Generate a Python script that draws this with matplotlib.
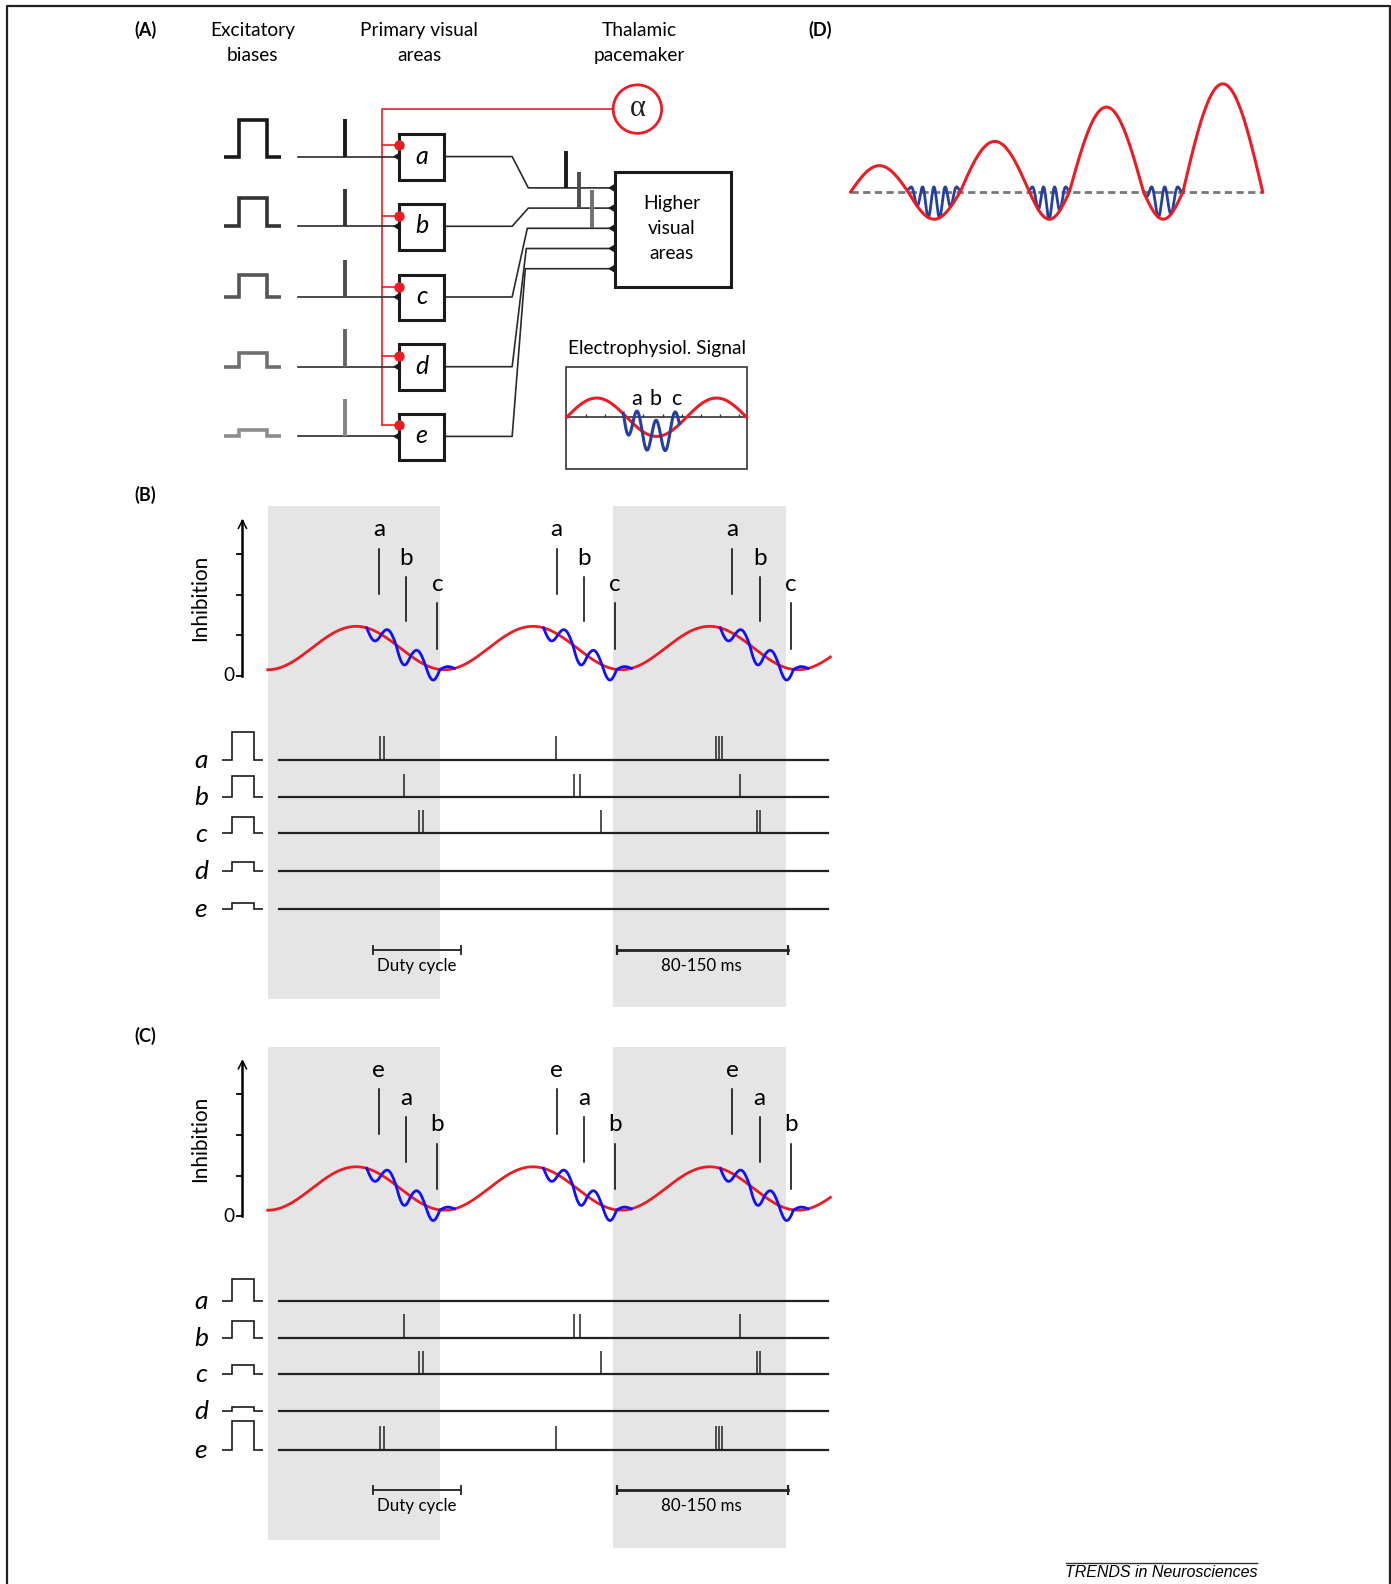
import numpy as np
import matplotlib.pyplot as plt
from matplotlib.patches import Rectangle, Circle, Polygon

plt.rcParams['font.family'] = ['Lato', 'DejaVu Sans']

RED = '#ec1c24'
BLUE_B = '#1010ff'
BLUE_A = '#2540a0'
SHADE = '#e5e5e5'
INK = '#1a1a1a'
FS = 13.8

# ---------------- panel A data ----------------
rows_A = ['a', 'b', 'c', 'd', 'e']
row_y_A = [155, 224, 294, 363, 432]
bias_h_A = [36, 28, 22, 14, 6]
bias_col_A = ['#1a1a1a', '#333333', '#555555', '#707070', '#8c8c8c']
spike_col_A = ['#1a1a1a', '#333333', '#4d4d4d', '#666666', '#858585']
tap_y_A = [144, 214, 284, 352, 421]
higher_in_y = [186, 206, 226, 246, 266]
merge_x = [523, 523, 522, 521, 520]
out_spike_x = [560, 573, 586]
out_spike_top = [149, 170, 188]
out_spike_bot = [186, 206, 226]
out_spike_col = ['#1a1a1a', '#4d4d4d', '#707070']

# inset "Electrophysiol. Signal"
inset_x = [561, 739]
inset_cycles = 1.5
inset_amp = 19
inset_axis_y = 413
inset_ticks = [580, 599, 618, 637, 656, 675, 694, 713, 732]
inset_burst = [617, 672.5]
inset_burst_peak = 631
inset_burst_period = 18.5
inset_burst_amp = 16
inset_labels = ['a', 'b', 'c']
inset_label_x = [630, 649, 669]

# ---------------- panel D data ----------------
zero_x_D = [842, 899, 950.5, 1019, 1058.6, 1132, 1171, 1250]
lobe_amp_D = [26, -27, 50, -27, 84, -27, 107]
base_y_D = 190
burst_peaks_D = [[902, 913.5, 925, 936.5, 947],
                 [1022, 1033, 1044, 1055],
                 [1140, 1153, 1166]]
burst_lobe_D = [1, 3, 5]
burst_top_D = 5

# ---------------- panels B / C data ----------------
red_x = [265, 822]
red_period = 175
red_mid = 641.5
red_amp = 21.5
burst_start = [363, 538, 713]
blue_period = 29
blue_env = [10, 9, 14, 10, 12, 3]
group_shift = [0, 176, 350]
label_x = [375, 402, 433]
label_top = [543, 571, 597]
label_bot = [588, 615, 642]
labels_B = ['a', 'b', 'c']
labels_C = ['e', 'a', 'b']
axis_ticks = [669, 629, 589, 548]
shade_x = [265, 607]
shade_w = 171
shade_top = 501
shade_bot = [989, 997]
offset_C = 535

raster_rows = ['a', 'b', 'c', 'd', 'e']
raster_y_B = [752, 789, 825, 862, 900]
raster_y_C = [1288, 1324, 1360, 1397, 1435]
bias_h_B = [27, 21, 16, 9, 6]
bias_h_C = [22, 16, 9, 4, 28]
spikes_a_B = [376, 380, 550.5, 708.5, 711.5, 715]
spikes_b_B = [399.5, 568.5, 574, 732.5]
spikes_c_B = [415, 419, 595, 749, 752.5]
spikes_d_B = []
spikes_e_B = []
spikes_a_C = []
spikes_b_C = [399.5, 568.5, 574, 732.5]
spikes_c_C = [415, 419, 595, 749, 752.5]
spikes_d_C = []
spikes_e_C = [376, 380, 550.5, 708.5, 711.5, 715]
spike_h = 23
duty_bar = [369, 456]
period_bar = [611, 780]
bar_y_B = 940


fig = plt.figure(figsize=(13.91, 15.84), dpi=100)
ax = fig.add_axes([0, 0, 1, 1])
ax.set_xlim(0, 1377)
ax.set_ylim(1568, 0)
ax.axis('off')

# frame
ax.plot([7, 7, 1376, 1376], [1568, 6, 6, 1568], color='#222222', lw=1.6)


def pulse(x0, x1, x2, x3, base, h, color, lw):
    ax.plot([x0, x1, x1, x2, x2, x3], [base, base, base - h, base - h, base, base],
            color=color, lw=lw, solid_joinstyle='miter', solid_capstyle='butt')


def tri(xtip, y, w, h, color):
    ax.add_patch(Polygon([[xtip, y], [xtip + w, y - h], [xtip + w, y + h]],
                         closed=True, fc=color, ec='none', zorder=5))


# ================= PANEL A =================
ax.text(144, 30, '(A)', fontsize=13, fontweight='bold', ha='center', va='center')
ax.text(250, 30, 'Excitatory', fontsize=FS, ha='center', va='center')
ax.text(250, 55, 'biases', fontsize=FS, ha='center', va='center')
ax.text(415, 30, 'Primary visual', fontsize=FS, ha='center', va='center')
ax.text(415, 55, 'areas', fontsize=FS, ha='center', va='center')
ax.text(633, 30, 'Thalamic', fontsize=FS, ha='center', va='center')
ax.text(633, 55, 'pacemaker', fontsize=FS, ha='center', va='center')

# thalamic pacemaker and red inhibitory lines
ax.add_patch(Circle((631, 108), 24, fc='white', ec=RED, lw=2, zorder=4))
ax.text(631, 107, 'α', fontsize=22, family='Liberation Serif', ha='center', va='center',
        color='#222222', zorder=5)
ax.plot([607, 378, 378], [108, 108, tap_y_A[-1]], color=RED, lw=1.2)

for i, r in enumerate(rows_A):
    y = row_y_A[i]
    pulse(222, 237, 264, 278, y, bias_h_A[i], bias_col_A[i], 2.6)
    ax.plot([295, 393], [y, y], color='#2a2a2a', lw=1.2)
    ax.plot([342, 342], [y - 37, y], color=spike_col_A[i], lw=2.8, solid_capstyle='butt')
    ax.plot([378, 395], [tap_y_A[i], tap_y_A[i]], color=RED, lw=1.2)
    ax.plot(395, tap_y_A[i], 'o', color=RED, ms=6.5, zorder=6)
    ax.add_patch(Rectangle((395, y - 22), 45, 45, fc='white', ec=INK, lw=2.2, zorder=3))
    tri(389, y, 8, 5, INK)
    ax.text(417.5, y + 7, r, fontsize=18, style='italic', ha='center', va='baseline', zorder=6)
    # output towards higher areas
    ax.plot([440, 507, merge_x[i], 603], [y, y, higher_in_y[i], higher_in_y[i]],
            color='#2a2a2a', lw=1.2)

ax.add_patch(Rectangle((609, 170), 115, 114, fc='white', ec=INK, lw=2.2, zorder=3))
for y in higher_in_y:
    tri(602, y, 8, 5, INK)
ax.text(665, 201, 'Higher', fontsize=FS, ha='center', va='center', zorder=6)
ax.text(665, 226, 'visual', fontsize=FS, ha='center', va='center', zorder=6)
ax.text(665, 251, 'areas', fontsize=FS, ha='center', va='center', zorder=6)
for i in range(3):
    ax.plot([out_spike_x[i], out_spike_x[i]], [out_spike_top[i], out_spike_bot[i]],
            color=out_spike_col[i], lw=2.8, solid_capstyle='butt', zorder=4)

# inset signal
ax.text(650, 345, 'Electrophysiol. Signal', fontsize=FS, ha='center', va='center')
ax.add_patch(Rectangle((560, 363), 179, 101, fc='white', ec='#333333', lw=1.2))
ax.plot([560, 739], [inset_axis_y, inset_axis_y], color='#333333', lw=1.2)
ax.vlines(inset_ticks, inset_axis_y - 3, inset_axis_y, color='#333333', lw=1)
ip = (inset_x[1] - inset_x[0]) / inset_cycles
xi = np.linspace(inset_x[0], inset_x[1], 300)


def inset_red(x):
    return inset_axis_y - inset_amp * np.sin(2 * np.pi * (x - inset_x[0]) / ip)


ax.plot(xi, inset_red(xi), color=RED, lw=2.2, zorder=4)
xb = np.linspace(inset_burst[0], inset_burst[1], 200)
ax.plot(xb, inset_red(xb) - inset_burst_amp * np.cos(2 * np.pi * (xb - inset_burst_peak) / inset_burst_period),
        color=BLUE_A, lw=2.2, zorder=5)
for lx, lb in zip(inset_label_x, inset_labels):
    ax.text(lx, 401, lb, fontsize=15.5, ha='center', va='baseline', zorder=6)

# ================= PANEL D =================
ax.text(812, 30, '(D)', fontsize=13, fontweight='bold', ha='center', va='center')
ax.plot([842, 1250], [base_y_D, base_y_D], color='#777777', lw=2, ls=(0, (2.6, 1.6)))


def red_D(x):
    y = np.full_like(x, float(base_y_D))
    for k in range(len(lobe_amp_D)):
        a, b = zero_x_D[k], zero_x_D[k + 1]
        m = (x >= a) & (x <= b)
        y[m] = base_y_D - lobe_amp_D[k] * np.sin(np.pi * (x[m] - a) / (b - a))
    return y


xd = np.linspace(zero_x_D[0], zero_x_D[-1], 1200)
for j, pk in enumerate(burst_peaks_D):
    lo = burst_lobe_D[j]
    a, b = zero_x_D[lo], zero_x_D[lo + 1]
    per = (pk[-1] - pk[0]) / (len(pk) - 1)
    xs = np.linspace(a, b, 300)
    ry = red_D(xs)
    top = base_y_D - burst_top_D
    w = (1 + np.cos(2 * np.pi * (xs - pk[0]) / per)) / 2
    ax.plot(xs, ry + (top - ry) * w, color=BLUE_A, lw=2, zorder=4)
ax.plot(xd, red_D(xd), color=RED, lw=2.2, zorder=5)

# ================= PANELS B and C =================


def red_BC(x, dy):
    return red_mid + dy + red_amp * np.cos(2 * np.pi * (x - red_x[0]) / red_period)


def wave_panel(dy, labels, title):
    ax.text(144, 490 + dy, title, fontsize=13, fontweight='bold', ha='center', va='center')
    for k in range(2):
        ax.add_patch(Rectangle((shade_x[k], shade_top + dy), shade_w, shade_bot[k] - shade_top,
                               fc=SHADE, ec='none', zorder=0))
    # axis
    ax.plot([240, 240], [axis_ticks[0] + dy, 516 + dy], color='black', lw=1.8)
    ax.plot([236, 240, 244], [523 + dy, 515 + dy, 523 + dy], color='black', lw=1.1)
    for t in axis_ticks:
        ax.plot([235, 240], [t + dy, t + dy], color='black', lw=1.3)
    ax.text(227, axis_ticks[0] + dy, '0', fontsize=FS, ha='center', va='center')
    ax.text(198, 592 + dy, 'Inhibition', fontsize=15, rotation=90, ha='center', va='center')
    xr = np.linspace(red_x[0], red_x[1], 800)
    ax.plot(xr, red_BC(xr, dy), color=RED, lw=2, zorder=3)
    half = blue_period / 2
    for s in burst_start:
        xb = np.linspace(s, s + half * len(blue_env), 300)
        idx = np.minimum(((xb - s) // half).astype(int), len(blue_env) - 1)
        env = np.array(blue_env)[idx]
        ax.plot(xb, red_BC(xb, dy) + env * np.sin(2 * np.pi * (xb - s) / blue_period),
                color=BLUE_B, lw=2, zorder=4)
    for g in group_shift:
        for i, lb in enumerate(labels):
            x = label_x[i] + g
            ax.plot([x, x], [label_top[i] + dy, label_bot[i] + dy], color='black', lw=1.1)
            ax.text(x, label_top[i] + dy - 12, lb, fontsize=17.5, ha='center', va='baseline')


def raster_panel(rows_y, bias_h, spikes, dy):
    for i, r in enumerate(raster_rows):
        y = rows_y[i]
        ax.text(199, y + 8, r, fontsize=19, style='italic', ha='center', va='baseline')
        pulse(220, 230, 251, 260, y, bias_h[i], INK, 1.2)
        ax.plot([276, 820], [y, y], color='#222222', lw=1.6, zorder=2)
        if spikes[i]:
            ax.vlines(spikes[i], y - spike_h, y, color='#222222', lw=1.1, zorder=2)
    by = bar_y_B + dy
    ax.plot(duty_bar, [by, by], color='#222222', lw=1.3)
    ax.vlines(duty_bar, by - 5, by + 5, color='#222222', lw=1.3)
    ax.text(sum(duty_bar) / 2, by + 16, 'Duty cycle', fontsize=12.2, ha='center', va='center')
    ax.plot(period_bar, [by, by], color='#222222', lw=2)
    ax.vlines(period_bar, by - 5, by + 5, color='#222222', lw=1.6)
    ax.text(sum(period_bar) / 2 - 1, by + 16, '80-150 ms', fontsize=12.2, ha='center', va='center')


wave_panel(0, labels_B, '(B)')
raster_panel(raster_y_B, bias_h_B,
             [spikes_a_B, spikes_b_B, spikes_c_B, spikes_d_B, spikes_e_B], 0)
wave_panel(offset_C, labels_C, '(C)')
raster_panel(raster_y_C, bias_h_C,
             [spikes_a_C, spikes_b_C, spikes_c_C, spikes_d_C, spikes_e_C], offset_C)

# footer
ax.plot([1055, 1244], [1547, 1547], color='#333333', lw=1)
ax.text(1150, 1557, 'TRENDS in Neurosciences', fontsize=11.5, family='Liberation Sans',
        style='italic', ha='center', va='center')

fig.savefig('out.png', dpi=100)
